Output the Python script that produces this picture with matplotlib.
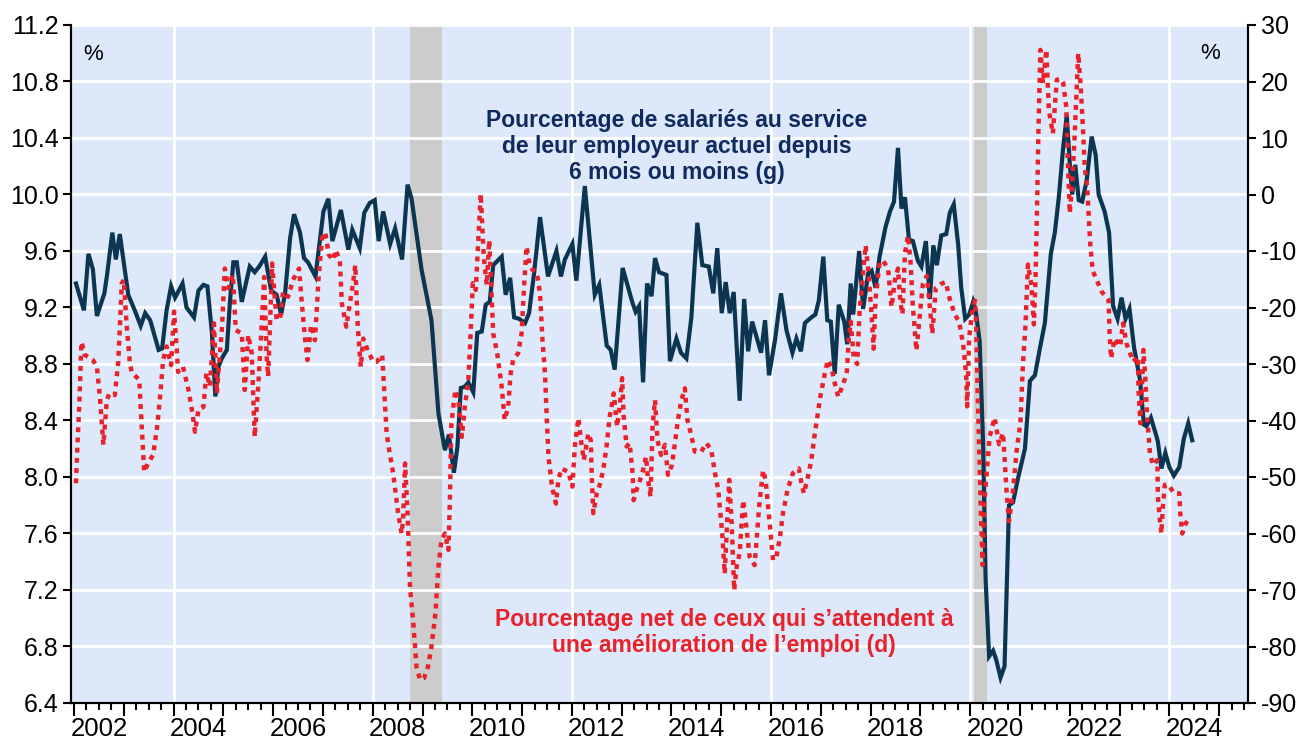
import matplotlib
matplotlib.use("Agg")
import matplotlib.pyplot as plt
import matplotlib.transforms as mtransforms
import numpy as np

plt.rcParams['font.family'] = ['Liberation Sans', 'DejaVu Sans']

# Blue series (left axis): share of employees with current employer 6 months or less
blue_t = [2002.04, 2002.20, 2002.29, 2002.38, 2002.46, 2002.61, 2002.66, 2002.77, 2002.84, 2002.92,
          2003.09, 2003.22, 2003.34, 2003.43, 2003.53, 2003.70, 2003.77, 2003.86, 2003.95, 2004.03,
          2004.18, 2004.26, 2004.41, 2004.50, 2004.60, 2004.68, 2004.77, 2004.84, 2004.90, 2004.97,
          2005.07, 2005.13, 2005.20, 2005.27, 2005.37, 2005.53, 2005.63, 2005.72, 2005.84, 2005.96,
          2006.07, 2006.16, 2006.24, 2006.34, 2006.42, 2006.54, 2006.62, 2006.70, 2006.85, 2007.01,
          2007.11, 2007.19, 2007.36, 2007.51, 2007.59, 2007.74, 2007.83, 2007.94, 2008.04, 2008.12,
          2008.21, 2008.35, 2008.45, 2008.59, 2008.70, 2008.78, 2008.98, 2009.18, 2009.32, 2009.45,
          2009.53, 2009.63, 2009.70, 2009.77, 2009.85, 2009.92, 2010.02, 2010.10, 2010.19, 2010.27,
          2010.35, 2010.42, 2010.59, 2010.67, 2010.76, 2010.84, 2010.94, 2011.06, 2011.14, 2011.24,
          2011.36, 2011.52, 2011.69, 2011.78, 2011.86, 2012.01, 2012.09, 2012.26, 2012.46, 2012.55,
          2012.70, 2012.78, 2012.86, 2013.02, 2013.22, 2013.28, 2013.35, 2013.43, 2013.51, 2013.60,
          2013.67, 2013.75, 2013.90, 2013.97, 2014.10, 2014.19, 2014.30, 2014.40, 2014.52, 2014.62,
          2014.75, 2014.84, 2014.92, 2015.01, 2015.09, 2015.17, 2015.25, 2015.37, 2015.46, 2015.54,
          2015.62, 2015.80, 2015.88, 2015.96, 2016.08, 2016.20, 2016.31, 2016.43, 2016.51, 2016.60,
          2016.68, 2016.81, 2016.89, 2016.96, 2017.05, 2017.13, 2017.20, 2017.28, 2017.36, 2017.47,
          2017.53, 2017.60, 2017.65, 2017.77, 2017.85, 2017.95, 2018.02, 2018.10, 2018.18, 2018.30,
          2018.39, 2018.47, 2018.55, 2018.62, 2018.69, 2018.77, 2018.85, 2018.95, 2019.02, 2019.11,
          2019.19, 2019.26, 2019.33, 2019.42, 2019.52, 2019.59, 2019.67, 2019.76, 2019.82, 2019.90,
          2019.98, 2020.06, 2020.11, 2020.19, 2020.26, 2020.31, 2020.38, 2020.46, 2020.52, 2020.61,
          2020.69, 2020.78, 2020.86, 2020.96, 2021.10, 2021.20, 2021.30, 2021.40, 2021.50, 2021.62,
          2021.70, 2021.78, 2021.87, 2021.94, 2022.00, 2022.05, 2022.11, 2022.18, 2022.25, 2022.34,
          2022.44, 2022.52, 2022.58, 2022.70, 2022.79, 2022.87, 2022.96, 2023.04, 2023.12, 2023.20,
          2023.29, 2023.41, 2023.49, 2023.54, 2023.63, 2023.74, 2023.77, 2023.84, 2023.92, 2024.00,
          2024.09, 2024.20, 2024.29, 2024.38, 2024.46]
blue_v = [9.37, 9.18, 9.58, 9.47, 9.14, 9.30, 9.42, 9.73, 9.54, 9.72,
          9.29, 9.18, 9.07, 9.16, 9.11, 8.90, 8.91, 9.18, 9.35, 9.27,
          9.37, 9.20, 9.13, 9.32, 9.36, 9.35, 9.02, 8.57, 8.78, 8.84,
          8.90, 9.23, 9.52, 9.52, 9.24, 9.49, 9.45, 9.49, 9.56, 9.32,
          9.29, 9.15, 9.30, 9.69, 9.86, 9.73, 9.55, 9.52, 9.42, 9.88,
          9.97, 9.67, 9.89, 9.61, 9.75, 9.62, 9.87, 9.94, 9.96, 9.67,
          9.88, 9.65, 9.76, 9.54, 10.07, 9.97, 9.47, 9.11, 8.45, 8.19,
          8.30, 8.03, 8.21, 8.63, 8.64, 8.67, 8.60, 9.02, 9.03, 9.22,
          9.24, 9.50, 9.56, 9.29, 9.41, 9.13, 9.12, 9.09, 9.16, 9.44,
          9.84, 9.42, 9.60, 9.42, 9.54, 9.65, 9.39, 10.06, 9.29, 9.36,
          8.93, 8.90, 8.76, 9.48, 9.23, 9.17, 9.21, 8.67, 9.37, 9.28,
          9.55, 9.45, 9.43, 8.82, 8.98, 8.88, 8.84, 9.13, 9.80, 9.50,
          9.49, 9.30, 9.62, 9.16, 9.38, 9.16, 9.31, 8.54, 9.26, 8.89,
          9.10, 8.88, 9.11, 8.72, 8.97, 9.30, 9.04, 8.88, 8.98, 8.89,
          9.09, 9.13, 9.15, 9.25, 9.56, 9.11, 9.10, 8.73, 9.22, 9.10,
          8.94, 9.37, 9.15, 9.60, 9.19, 9.44, 9.46, 9.34, 9.56, 9.77,
          9.88, 9.95, 10.33, 9.90, 9.98, 9.68, 9.67, 9.53, 9.49, 9.67,
          9.26, 9.64, 9.50, 9.71, 9.72, 9.87, 9.93, 9.64, 9.34, 9.12,
          9.15, 9.24, 9.18, 8.96, 8.23, 7.28, 6.73, 6.77, 6.71, 6.58,
          6.66, 7.80, 7.82, 7.99, 8.20, 8.68, 8.72, 8.91, 9.09, 9.58,
          9.73, 9.98, 10.34, 10.56, 10.22, 10.00, 10.21, 9.96, 9.95, 10.10,
          10.41, 10.28, 10.00, 9.88, 9.73, 9.21, 9.12, 9.27, 9.12, 9.19,
          8.92, 8.69, 8.37, 8.36, 8.42, 8.29, 8.25, 8.06, 8.17, 8.07,
          8.01, 8.07, 8.27, 8.38, 8.26]

# Red series (right axis): net share expecting employment to improve
red_t = [2002.04, 2002.07, 2002.11, 2002.15, 2002.22, 2002.38, 2002.46, 2002.52, 2002.59, 2002.66,
         2002.71, 2002.82, 2002.89, 2002.96, 2003.00, 2003.06, 2003.12, 2003.16, 2003.31, 2003.36,
         2003.41, 2003.49, 2003.59, 2003.67, 2003.74, 2003.79, 2003.86, 2003.95, 2004.01, 2004.06,
         2004.09, 2004.19, 2004.30, 2004.38, 2004.43, 2004.50, 2004.60, 2004.66, 2004.73, 2004.81,
         2004.87, 2004.92, 2004.97, 2005.03, 2005.10, 2005.19, 2005.25, 2005.37, 2005.43, 2005.50,
         2005.57, 2005.63, 2005.70, 2005.77, 2005.82, 2005.87, 2005.90, 2005.94, 2005.98, 2006.02,
         2006.07, 2006.14, 2006.20, 2006.30, 2006.40, 2006.52, 2006.58, 2006.64, 2006.69, 2006.76,
         2006.84, 2006.91, 2006.99, 2007.05, 2007.12, 2007.21, 2007.25, 2007.34, 2007.38, 2007.47,
         2007.53, 2007.60, 2007.65, 2007.70, 2007.76, 2007.81, 2007.91, 2008.01, 2008.08, 2008.19,
         2008.23, 2008.28, 2008.33, 2008.41, 2008.46, 2008.51, 2008.58, 2008.61, 2008.65, 2008.70,
         2008.75, 2008.81, 2008.88, 2008.95, 2009.03, 2009.11, 2009.18, 2009.26, 2009.32, 2009.38,
         2009.45, 2009.52, 2009.55, 2009.58, 2009.63, 2009.66, 2009.72, 2009.79, 2009.85, 2009.92,
         2009.97, 2010.01, 2010.07, 2010.12, 2010.17, 2010.23, 2010.29, 2010.34, 2010.39, 2010.42,
         2010.50, 2010.59, 2010.65, 2010.72, 2010.77, 2010.82, 2010.92, 2010.99, 2011.04, 2011.09,
         2011.16, 2011.22, 2011.30, 2011.36, 2011.41, 2011.46, 2011.50, 2011.53, 2011.60, 2011.68,
         2011.73, 2011.79, 2011.93, 2012.01, 2012.06, 2012.13, 2012.19, 2012.24, 2012.33, 2012.38,
         2012.40, 2012.43, 2012.50, 2012.55, 2012.63, 2012.70, 2012.76, 2012.84, 2012.91, 2012.96,
         2013.01, 2013.04, 2013.10, 2013.16, 2013.22, 2013.24, 2013.30, 2013.37, 2013.43, 2013.49,
         2013.53, 2013.58, 2013.62, 2013.67, 2013.72, 2013.79, 2013.87, 2013.93, 2014.01, 2014.07,
         2014.13, 2014.20, 2014.27, 2014.32, 2014.39, 2014.47, 2014.60, 2014.70, 2014.80, 2014.87,
         2014.94, 2015.02, 2015.07, 2015.12, 2015.16, 2015.21, 2015.26, 2015.31, 2015.37, 2015.44,
         2015.49, 2015.57, 2015.67, 2015.71, 2015.76, 2015.84, 2015.89, 2015.93, 2015.98, 2016.04,
         2016.11, 2016.18, 2016.24, 2016.33, 2016.44, 2016.56, 2016.61, 2016.66, 2016.74, 2016.81,
         2016.87, 2016.93, 2016.99, 2017.08, 2017.14, 2017.21, 2017.28, 2017.35, 2017.43, 2017.52,
         2017.56, 2017.60, 2017.66, 2017.73, 2017.78, 2017.85, 2017.90, 2017.95, 2018.02, 2018.06,
         2018.10, 2018.18, 2018.25, 2018.35, 2018.42, 2018.49, 2018.55, 2018.60, 2018.64, 2018.69,
         2018.75, 2018.80, 2018.85, 2018.92, 2018.99, 2019.05, 2019.13, 2019.19, 2019.24, 2019.31,
         2019.42, 2019.51, 2019.59, 2019.69, 2019.78, 2019.86, 2019.92, 2019.94, 2019.98, 2020.05,
         2020.10, 2020.12, 2020.15, 2020.19, 2020.22, 2020.25, 2020.28, 2020.34, 2020.39, 2020.49,
         2020.58, 2020.66, 2020.73, 2020.78, 2020.86, 2020.93, 2021.01, 2021.06, 2021.11, 2021.16,
         2021.23, 2021.28, 2021.31, 2021.34, 2021.37, 2021.41, 2021.46, 2021.53, 2021.58, 2021.66,
         2021.74, 2021.81, 2021.87, 2021.93, 2021.96, 2022.00, 2022.05, 2022.10, 2022.17, 2022.22,
         2022.27, 2022.30, 2022.35, 2022.41, 2022.46, 2022.54, 2022.64, 2022.78, 2022.80, 2022.83,
         2022.90, 2023.01, 2023.07, 2023.14, 2023.20, 2023.27, 2023.37, 2023.38, 2023.42, 2023.48,
         2023.52, 2023.55, 2023.61, 2023.67, 2023.76, 2023.77, 2023.81, 2023.84, 2023.87, 2023.91,
         2023.99, 2024.09, 2024.20, 2024.22, 2024.26, 2024.33, 2024.42]
red_v = [-51.1, -44.3, -36.4, -26.1, -28.4, -29.3, -30.5, -35.8, -44.3, -36.4,
         -35.2, -35.5, -29.6, -15.7, -15.1, -23.4, -29.6, -31.5, -32.8, -41.1,
         -49.1, -47.5, -46.1, -41.1, -34.7, -29.3, -26.9, -30.2, -20.7, -26.9,
         -31.4, -30.5, -34.6, -38.7, -42.0, -38.1, -37.6, -31.6, -34.0, -22.8,
         -35.2, -29.3, -24.0, -13.1, -16.6, -14.2, -24.0, -24.6, -34.6, -24.9,
         -28.1, -42.9, -34.0, -23.1, -14.6, -28.7, -32.2, -22.2, -12.2, -16.9,
         -22.2, -21.9, -17.2, -18.1, -15.1, -13.1, -19.6, -25.5, -29.3, -23.1,
         -25.8, -15.1, -6.9, -6.9, -10.7, -11.6, -9.8, -11.6, -19.3, -23.4,
         -19.9, -16.0, -12.5, -23.4, -30.5, -25.5, -27.8, -29.6, -29.6, -28.4,
         -34.6, -42.3, -45.2, -49.3, -52.9, -56.4, -60.0, -57.6, -47.6, -56.4,
         -69.7, -75.3, -83.6, -85.9, -85.6, -83.6, -80.0, -74.1, -65.9, -61.2,
         -60.0, -62.9, -54.1, -40.5, -36.7, -34.6, -36.4, -42.9, -37.6, -32.8,
         -24.0, -15.7, -16.9, -8.1, 0.1, -11.0, -16.0, -8.1, -18.1, -24.6,
         -28.1, -34.0, -39.9, -37.6, -31.7, -29.3, -28.1, -24.6, -16.3, -9.2,
         -12.8, -13.4, -14.0, -17.5, -25.8, -31.7, -40.5, -46.4, -51.7, -54.7,
         -50.5, -48.5, -49.1, -51.7, -44.6, -39.6, -44.0, -47.0, -42.3, -43.5,
         -49.9, -56.4, -52.9, -51.7, -48.8, -44.3, -39.3, -35.2, -41.1, -37.6,
         -32.5, -39.3, -44.6, -44.0, -49.3, -54.1, -52.3, -50.5, -48.8, -46.4,
         -50.5, -53.5, -41.1, -36.4, -43.5, -46.1, -44.3, -49.6, -47.9, -44.0,
         -39.9, -36.4, -34.3, -39.9, -42.3, -45.5, -45.5, -44.0, -45.2, -49.1,
         -52.3, -60.0, -67.1, -58.0, -50.5, -58.2, -70.0, -65.9, -63.5, -54.1,
         -57.6, -64.1, -65.6, -61.2, -55.3, -48.8, -50.5, -54.1, -58.8, -64.7,
         -64.1, -60.6, -56.4, -52.3, -49.3, -48.5, -51.1, -52.9, -50.0, -47.0,
         -42.9, -39.3, -35.8, -31.7, -29.3, -30.5, -33.4, -35.8, -34.0, -31.7,
         -25.8, -22.5, -28.7, -30.0, -20.5, -13.8, -9.0, -13.1, -21.2, -27.3,
         -18.5, -12.1, -11.7, -13.1, -19.9, -15.1, -13.1, -19.2, -21.2, -10.4,
         -7.3, -11.7, -19.9, -27.6, -21.2, -15.8, -14.4, -19.9, -24.6, -16.5,
         -15.8, -15.5, -18.5, -21.2, -22.6, -26.6, -32.0, -37.5, -25.3, -19.9,
         -18.8, -23.2, -34.8, -47.6, -57.8, -65.6, -55.1, -48.3, -42.9, -39.5,
         -44.2, -42.2, -52.4, -57.8, -52.4, -45.6, -40.2, -30.0, -23.2, -12.4,
         -16.0, -23.0, -15.8, -3.6, 10.8, 25.6, 19.7, 25.6, 15.0, 10.8,
         20.3, 20.5, 19.7, 15.5, 6.1, -3.3, 2.0, 10.8, 25.0, 19.1,
         10.8, 4.9, 1.4, -8.6, -13.5, -15.1, -17.2, -18.7, -24.6, -29.0,
         -25.5, -26.9, -22.8, -26.4, -27.8, -29.6, -28.7, -34.6, -40.5, -27.5,
         -32.8, -38.7, -45.8, -47.9, -47.0, -53.5, -57.6, -60.0, -55.3, -51.4,
         -51.4, -52.9, -52.9, -56.4, -60.0, -58.2, -57.1]

# Recessions (shaded)
recessions = [(2008.75, 2009.40), (2020.08, 2020.33)]

left_ticks = np.arange(6.4, 11.21, 0.4)
right_ticks = np.arange(-90, 31, 10)
label_years = list(range(2002, 2025, 2))
grid_years = [2004, 2008, 2012, 2016, 2020, 2024]

bg = '#dde9fb'
blue = '#0b3550'
navy_text = '#0f2a5e'
red = '#e8212b'

fig = plt.figure(figsize=(12.98, 7.42), dpi=100)
ax = fig.add_axes([71 / 1298, 1 - 703 / 742, (1248 - 71) / 1298, (703 - 25) / 742])
ax.set_facecolor(bg)
ax2 = ax.twinx()

for a, b in recessions:
    ax.axvspan(a, b, color='#cccccc', zorder=0.3, lw=0)

ax.set_axisbelow(True)
ax.yaxis.grid(True, color='white', lw=2)
for g in grid_years:
    ax.axvline(g, color='white', lw=2, zorder=0.5)

ax.plot(blue_t, blue_v, color=blue, lw=3, zorder=3, solid_joinstyle='miter')
ax2.plot(red_t, red_v, color=red, lw=3.2, linestyle=(0, (1.1, 1.2)), zorder=3)

ax.set_xlim(2001.94, 2025.58)
ax.set_ylim(6.4, 11.2)
ax2.set_ylim(-90, 30)
ax.set_yticks(left_ticks)
ax.set_yticklabels([f'{v:.1f}' for v in left_ticks])
ax2.set_yticks(right_ticks)
ax2.set_yticklabels([f'{v:d}' for v in right_ticks])

ax.set_xticks(range(2002, 2026))
ax.set_xticklabels([])
ax.set_xticks(np.arange(2002, 2025.6, 0.25), minor=True)
ax.tick_params(axis='x', which='major', direction='out', length=9, width=1.5)
ax.tick_params(axis='x', which='minor', direction='out', length=5, width=1.5)
ax.tick_params(axis='y', direction='out', length=6, width=1.5, labelsize=18, pad=3)
ax2.tick_params(axis='y', direction='out', length=6, width=1.5, labelsize=18, pad=3)

trans = mtransforms.blended_transform_factory(ax.transData, ax.transAxes)
for yr in label_years:
    ax.text(yr + 0.5, -0.02, str(yr), transform=trans, ha='center', va='top', fontsize=18.5)

for a in (ax, ax2):
    a.spines['top'].set_visible(False)
    for s in ('left', 'right', 'bottom'):
        a.spines[s].set_linewidth(1.5)

ax.text(0.010, 0.972, '%', transform=ax.transAxes, fontsize=16, ha='left', va='top')
ax.text(0.976, 0.974, '%', transform=ax.transAxes, fontsize=16, ha='right', va='top')

ax.text(2014.11, 10.34, 'Pourcentage de salariés au service\nde leur employeur actuel depuis\n6 mois ou moins (g)',
        ha='center', va='center', fontsize=16.5, fontweight='bold', color=navy_text, linespacing=1.18, zorder=5)
ax.text(2015.06, 6.90, 'Pourcentage net de ceux qui s\u2019attendent à\nune amélioration de l\u2019emploi (d)',
        ha='center', va='center', fontsize=16.5, fontweight='bold', color=red, linespacing=1.2, zorder=5)

fig.savefig('out.png', dpi=100)
